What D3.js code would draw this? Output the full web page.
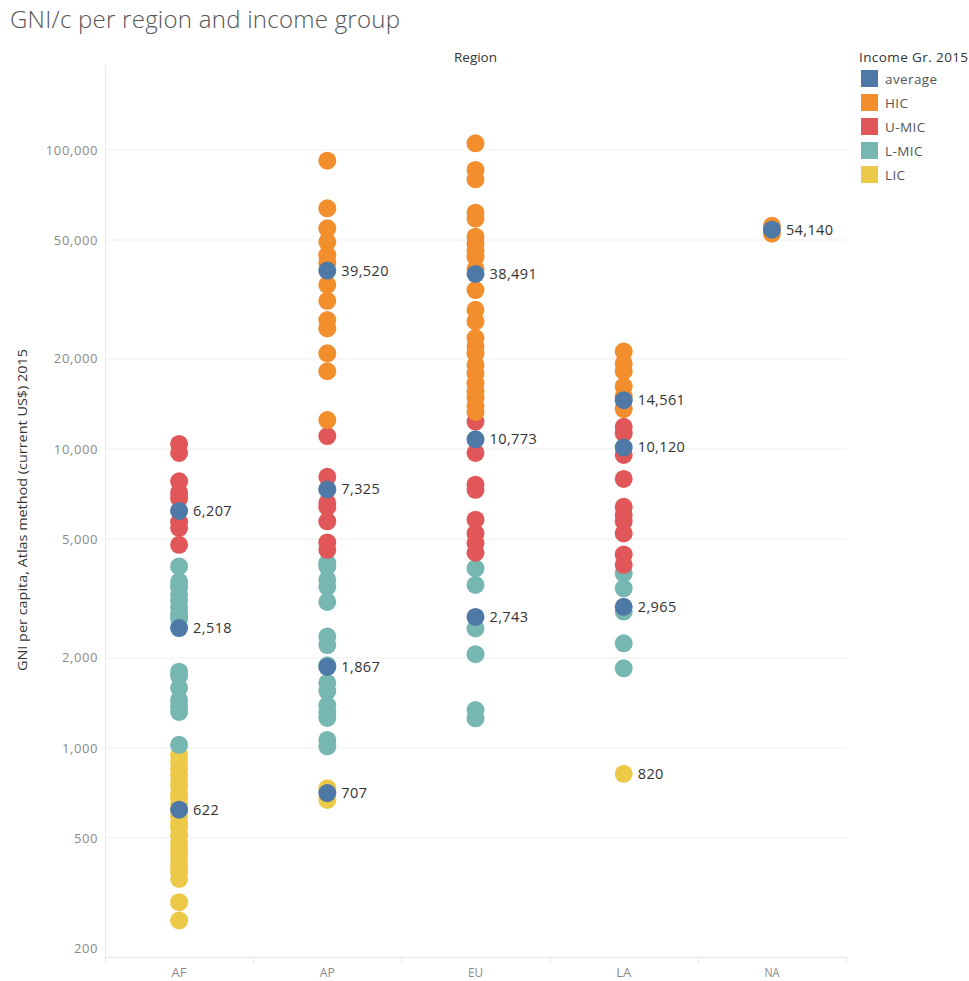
<!DOCTYPE html>
<html><head><meta charset="utf-8">
<script src="https://cdn.jsdelivr.net/npm/d3@7"></script>
<style>
body{margin:0;background:#fff;}
svg{display:block;font-family:"Open Sans","Noto Sans",sans-serif;}
</style></head>
<body><svg id="c" width="969" height="981"></svg>
<script>
const regions = ["AF","AP","EU","LA","NA"];
const groups = ["average","HIC","U-MIC","L-MIC","LIC"];
const colors = ["#4e79a7","#f28e2b","#e15759","#76b7b2","#edc948"];
const yTicks = [200,500,1000,2000,5000,10000,20000,50000,100000];

const hic = {
  AP:[92100,63800,54700,49300,44500,42000,35400,31300,27000,25300,20900,18200,12500],
  EU:[105300,85800,79800,61700,59000,51300,48700,46200,43900,40000,34000,29200,26700,23500,22000,20900,19100,17900,16600,15600,14800,13900,13300],
  LA:[21200,19300,18200,16200,15000,13600],
  NA:[55800,52500]
};
const umic = {
  AF:[10400,9700,7800,7150,6850,5700,5450,4780],
  AP:[11050,8070,6600,6400,5730,4870,4600],
  EU:[12350,9700,7600,7300,5800,5220,4850,4500],
  LA:[11870,11300,9550,7940,6410,6020,5730,5220,4440,4100]
};
const lmic = {
  AF:[4050,3600,3450,3250,3100,2950,2800,2700,1800,1740,1590,1450,1380,1320,1025],
  AP:[4150,4050,3650,3460,3080,2360,2210,1890,1650,1550,1390,1320,1260,1064,1013],
  EU:[3990,3510,2510,2060,1340,1257],
  LA:[3840,3420,2860,2240,1848]
};
const lic = {
  AF:[950,900,850,810,770,740,700,680,650,620,590,560,540,510,480,460,440,420,400,385,365,305,265],
  AP:[733,670],
  LA:[820]
};
const averages = {
  AF:[6207,2518,622],
  AP:[39520,7325,1867,707],
  EU:[38491,10773,2743],
  LA:[14561,10120,2965,820],
  NA:[54140]
};

const svg = d3.select("#c");
const L = 105, R = 846, T = 65, B = 957;
const x = d3.scaleBand().domain(regions).range([L,R]);
const y = d3.scaleLog().domain([200,100000]).range([B,150]);
const color = d3.scaleOrdinal().domain(groups).range(colors);

// Title
svg.append("text").attr("x",10).attr("y",28).text("GNI/c per region and income group")
  .attr("font-size",24).attr("font-weight",300).attr("fill","#555")
  .attr("textLength",390).attr("lengthAdjust","spacing");
svg.append("text").attr("x",(L+R)/2).attr("y",62).attr("text-anchor","middle")
  .text("Region").attr("font-size",13.5).attr("fill","#333");

// grid
svg.append("g").selectAll("line").data(yTicks).join("line")
  .attr("x1",L).attr("x2",R).attr("y1",d=>y(d)).attr("y2",d=>y(d))
  .attr("stroke","#efefef").attr("stroke-width",1);
svg.append("line").attr("x1",L+0.5).attr("x2",L+0.5).attr("y1",T).attr("y2",B)
  .attr("stroke","#ebebeb");
svg.append("line").attr("x1",L).attr("x2",R).attr("y1",B+0.5).attr("y2",B+0.5)
  .attr("stroke","#ebebeb");
const borders = regions.map(r=>x(r)).concat([R]);
svg.append("g").selectAll("line").data(borders).join("line")
  .attr("x1",d=>d+0.5).attr("x2",d=>d+0.5).attr("y1",B).attr("y2",B+6).attr("stroke","#e3e3e3");

// y tick labels
const fmt = d3.format(",");
svg.append("g").selectAll("text").data(yTicks).join("text")
  .attr("x",L-7).attr("y",d=> d===200 ? y(d)-4.5 : y(d)+4.5).attr("text-anchor","end")
  .attr("font-size",13).attr("letter-spacing",0.6).attr("fill","#8a8a8a").text(d=>fmt(d));
// x tick labels
svg.append("g").selectAll("text").data(regions).join("text")
  .attr("x",d=>x(d)+x.bandwidth()/2).attr("y",977).attr("text-anchor","middle")
  .attr("font-size",13).attr("fill","#8a8a8a").attr("textLength",d=>d.length*7.5).attr("lengthAdjust","spacingAndGlyphs").text(d=>d);
// y axis title
svg.append("text").attr("transform","translate(27,510) rotate(-90)").attr("text-anchor","middle")
  .attr("font-size",13).attr("fill","#333").attr("textLength",322).attr("lengthAdjust","spacingAndGlyphs")
  .text("GNI per capita, Atlas method (current US$) 2015");

// points
const pts = [];
[["LIC",lic],["L-MIC",lmic],["U-MIC",umic],["HIC",hic]].forEach(([g,obj])=>{
  regions.forEach(r=>{ (obj[r]||[]).forEach(v=>pts.push({r,g,v})); });
});
const avg = [];
regions.forEach(r=>(averages[r]||[]).forEach(v=>avg.push({r,g:"average",v})));
const cx = d=>x(d.r)+x.bandwidth()/2;
// an average that equals a single country's value is hidden under that country's mark
const covered = a => pts.some(p => p.r===a.r && p.v===a.v);
svg.append("g").selectAll("circle").data(pts).join("circle")
  .attr("cx",cx).attr("cy",d=>y(d.v)).attr("r",9).attr("fill",d=>color(d.g));
svg.append("g").selectAll("circle").data(avg.filter(a=>!covered(a))).join("circle")
  .attr("cx",cx).attr("cy",d=>y(d.v)).attr("r",9).attr("fill",color("average"));
svg.append("g").selectAll("text").data(avg).join("text")
  .attr("x",d=>cx(d)+14).attr("y",d=>y(d.v)+5).attr("font-size",14.5).attr("letter-spacing",0.4).attr("fill","#333").text(d=>fmt(d.v));

// legend
svg.append("text").attr("x",859).attr("y",62).text("Income Gr. 2015").attr("font-size",13.5).attr("letter-spacing",0.4).attr("fill","#333");
const lg = svg.append("g").selectAll("g").data(groups).join("g")
  .attr("transform",(d,i)=>`translate(861,${70+i*24})`);
lg.append("rect").attr("width",17).attr("height",17).attr("fill",d=>color(d));
lg.append("text").attr("x",24).attr("y",13.5).attr("font-size",13.5).attr("letter-spacing",0.4).attr("fill","#555").text(d=>d);
</script></body></html>
